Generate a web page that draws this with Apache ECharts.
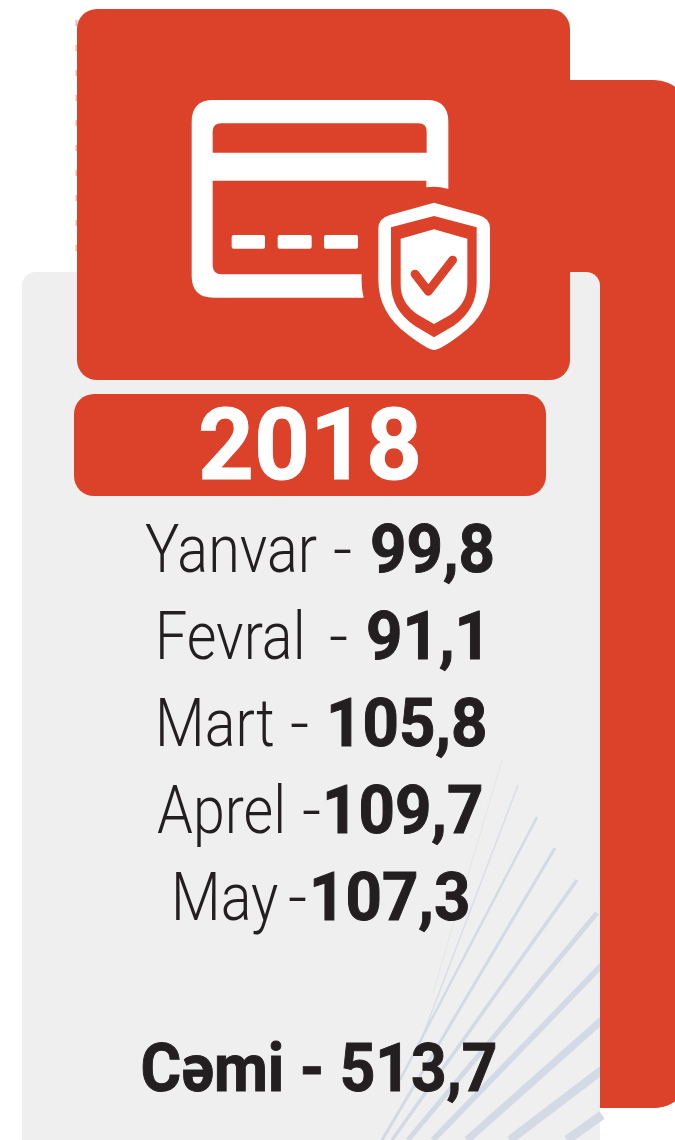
<!DOCTYPE html>
<html><head><meta charset="utf-8">
<style>html,body{margin:0;padding:0;background:#fff}#c{width:675px;height:1140px}</style>
<script src="https://cdn.jsdelivr.net/npm/echarts@6/dist/echarts.min.js"></script>
</head><body><div id="c"></div>
<script>
const year = '2018';
const months = ['Yanvar','Fevral','Mart','Aprel','May'];
const values = [99.8,91.1,105.8,109.7,107.3];
const totalLabel = 'Cəmi';
const totalValue = 513.7;
const rowY = [555,642,729,816,903];
const labelX = [145,155,155,157,171];
const dashX = [333,329,290,302,288];
const valueX = [370,366,326,322,309];
const RED='#dc4229', GREY='#efefef', STRIPE='#d3dae6', WHITE='#ffffff', INK='#231f20';
const fmt = v => v.toFixed(1).replace('.',',');
const stripes = [
 [433,993,502,760,1,0.45],[420,1043,518,785,1.5,0.8],[400,1080,537,817,2.5,1],
 [382,1140,555,848,3,1],[392,1140,577,880,3.5,1],[408,1140,597,913,5,1],
 [433,1140,602,965,6,1],[467,1140,602,1020,7.5,1],[510,1140,602,1070,8.5,1],[567,1140,602,1115,9,1]
];
const iconPaths = [
 ['M130,60H770Q835,60 835,125V327Q800,317 769,322V302H128V555Q128,583 155,583H575Q573,620 581,653H130Q65,653 65,588V125Q65,60 130,60Z',WHITE],
 ['M155,130H745Q770,130 770,155V218H128V155Q128,130 155,130Z',RED],
 ['M191,465H279Q285,465 285,471V500Q285,506 279,506H191Q185,506 185,500V471Q185,465 191,465Z',WHITE],
 ['M329,465H419Q425,465 425,471V500Q425,506 419,506H329Q323,506 323,500V471Q323,465 329,465Z',WHITE],
 ['M468,465H558Q564,465 564,471V500Q564,506 558,506H468Q462,506 462,500V471Q462,465 468,465Z',WHITE],
 ['M792,368L925,405Q960,415 960,445V600Q960,700 870,765Q810,810 792,810Q775,810 715,765Q625,700 625,600V445Q625,415 660,405Z',WHITE],
 ['M792,408L920,442V610Q920,690 850,738L792,772L735,738Q663,690 663,610V442Z',RED],
 ['M792,448L892,476V615Q892,670 840,705L792,732L745,705Q692,670 692,615V476Z',WHITE]
];
const measure = document.createElement('canvas').getContext('2d');
const widthOf = (t,f) => { measure.font=f; return measure.measureText(t).width; };
const REG='300 67px Roboto', BOLD='bold 66px Roboto', YEARF='bold 100px Roboto', TOTALF='bold 67px Roboto';
const REG_SX = 172/widthOf('Yanvar',REG), VAL_SX = 125/widthOf('99,8',BOLD);
const els = [];
els.push({type:'rect',shape:{x:540,y:80,width:150,height:1028,r:[0,36,36,0]},style:{fill:RED}});
els.push({type:'rect',shape:{x:22,y:272,width:578,height:900,r:14},style:{fill:GREY}});
stripes.forEach(s=>els.push({type:'line',shape:{x1:s[0],y1:s[1],x2:s[2],y2:s[3]},
  style:{stroke:STRIPE,lineWidth:s[4],opacity:s[5]}}));
els.push({type:'rect',shape:{x:600,y:600,width:90,height:508,r:[0,36,36,0]},style:{fill:RED}});
els.push({type:'line',shape:{x1:76.5,y1:20,x2:76.5,y2:255},style:{stroke:'#f0b9ac',lineWidth:2,lineDash:[6,19]}});
els.push({type:'rect',shape:{x:77,y:9,width:493,height:371,r:20},style:{fill:RED}});
els.push({type:'rect',shape:{x:74,y:394,width:472,height:102,r:20},style:{fill:RED}});
els.push({type:'text',x:310,y:454,scaleX:224/widthOf(year,YEARF),style:{text:year,align:'center',verticalAlign:'middle',
  fill:WHITE,stroke:WHITE,lineWidth:1,font:YEARF}});
months.forEach((m,i)=>{
  els.push({type:'text',x:labelX[i],y:rowY[i],scaleX:REG_SX,style:{text:m,align:'left',verticalAlign:'middle',fill:INK,font:REG}});
  els.push({type:'text',x:dashX[i],y:rowY[i],style:{text:'-',align:'left',verticalAlign:'middle',fill:INK,font:REG}});
  els.push({type:'text',x:valueX[i],y:rowY[i],scaleX:VAL_SX,style:{text:fmt(values[i]),align:'left',verticalAlign:'middle',fill:INK,stroke:INK,lineWidth:1,font:BOLD}});
});
const totalText = `${totalLabel} - ${fmt(totalValue)}`;
els.push({type:'text',x:319,y:1074,scaleX:357/widthOf(totalText,TOTALF),style:{align:'center',verticalAlign:'middle',
  text:totalText,fill:INK,stroke:INK,lineWidth:1,font:TOTALF}});
const renderIcon = () => ({type:'group',x:170,y:80,scaleX:1/3,scaleY:1/3,children:[
  ...iconPaths.map(p=>({type:'path',shape:{pathData:p[0]},style:{fill:p[1]}})),
  {type:'polyline',shape:{points:[[735,582],[775,634],[848,540]]},
   style:{stroke:RED,fill:null,lineWidth:26,lineCap:'round',lineJoin:'round'}}
]});
echarts.init(document.getElementById('c'),null,{renderer:'canvas'}).setOption({animation:false,
  graphic:{elements:els},
  series:[{type:'custom',coordinateSystem:'none',silent:true,data:[0],renderItem:renderIcon}]});
</script></body></html>
